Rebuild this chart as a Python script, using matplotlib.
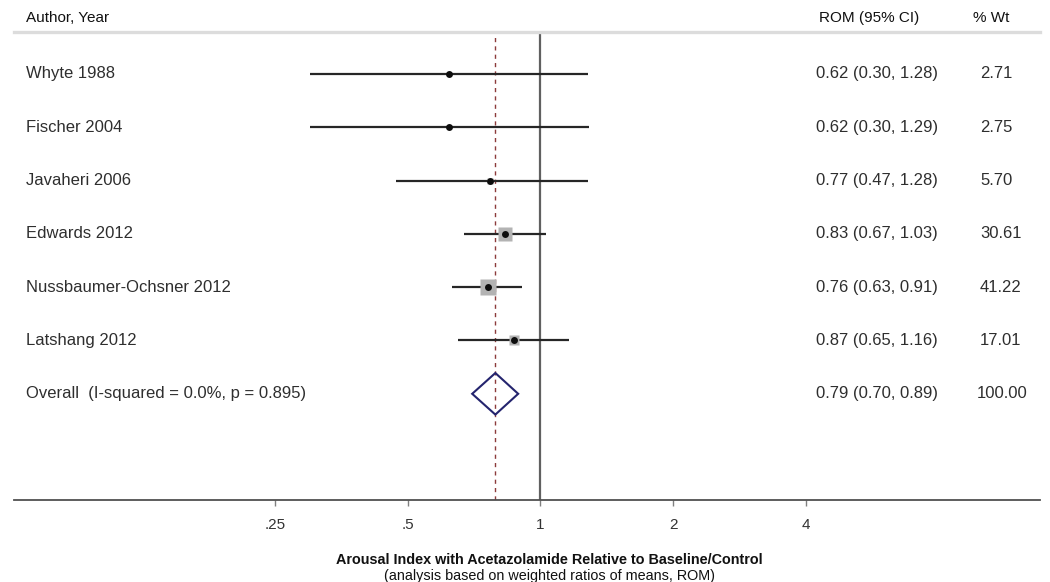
import numpy as np
import matplotlib
matplotlib.use("Agg")
import matplotlib.pyplot as plt
from matplotlib.patches import Polygon
from matplotlib.transforms import blended_transform_factory

# Study-level ratios of means (ROM) with 95% CI and weights
studies = ["Whyte 1988", "Fischer 2004", "Javaheri 2006", "Edwards 2012",
           "Nussbaumer-Ochsner 2012", "Latshang 2012"]
rom = [0.62, 0.62, 0.77, 0.83, 0.76, 0.87]
ci_low = [0.30, 0.30, 0.47, 0.67, 0.63, 0.65]
ci_high = [1.28, 1.29, 1.28, 1.03, 0.91, 1.16]
weights = [2.71, 2.75, 5.70, 30.61, 41.22, 17.01]

# Pooled estimate
overall_label = "Overall  (I-squared = 0.0%, p = 0.895)"
overall_rom = 0.79
overall_low = 0.70
overall_high = 0.89
overall_weight = 100.00

tick_values = [0.25, 0.5, 1, 2, 4]
tick_labels = [".25", ".5", "1", "2", "4"]

plt.rcParams["font.family"] = ["Liberation Sans", "DejaVu Sans"]

W, H = 1050, 582
fig = plt.figure(figsize=(W / 100, H / 100), dpi=100)

# Axes frame in pixel terms: x 14..1040, y 32..500 (from top)
ax_left, ax_right, ax_top, ax_bottom = 14, 1040, 32, 500
ax = fig.add_axes([ax_left / W, (H - ax_bottom) / H,
                   (ax_right - ax_left) / W, (ax_bottom - ax_top) / H])

# log2 axis: value 1 sits at x=540.5 px, 132.75 px per doubling
x_one, px_per_doubling = 540.5, 132.75
ax.set_xscale("log", base=2)
ax.set_xlim(2 ** ((ax_left - x_one) / px_per_doubling),
            2 ** ((ax_right - x_one) / px_per_doubling))

# rows: first row at y=74 px, spacing 53.3 px
row0, row_gap = 74.0, 53.3
ax.set_ylim((ax_bottom - row0) / row_gap, (ax_top - row0) / row_gap)

for s in ("left", "right"):
    ax.spines[s].set_visible(False)
ax.spines["top"].set_color("#dcdcdc")
ax.spines["top"].set_linewidth(2.4)
ax.spines["bottom"].set_color("#505050")
ax.spines["bottom"].set_linewidth(1.3)
ax.set_yticks([])
ax.set_xticks(tick_values)
ax.set_xticklabels(tick_labels)
ax.xaxis.set_minor_locator(matplotlib.ticker.NullLocator())
ax.tick_params(axis="x", direction="out", length=4, width=1, color="#808080",
               labelsize=11, labelcolor="#333333", pad=9)

# reference lines
ax.axvline(1, color="#606060", lw=1.6, zorder=1)
ax.axvline(overall_rom, color="#8c3b3b", lw=1.0, ls=(0, (3, 3)), zorder=1)

rows = np.arange(len(studies))
box_scale = 2.6  # px per sqrt(weight)
for y, est, lo, hi, w in zip(rows, rom, ci_low, ci_high, weights):
    ax.plot([lo, hi], [y, y], color="#262626", lw=1.6, solid_capstyle="butt", zorder=2)
    ax.plot(est, y, marker="s", ms=box_scale * np.sqrt(w) * 0.72,
            color="#b3b3b3", mec="none", zorder=3)
    ax.plot(est, y, marker="o", ms=5.0, color="#0d0d0d", mec="none", zorder=4)

# pooled diamond
y_ov = len(studies)
half_h = 0.39
diamond = Polygon([[overall_low, y_ov], [overall_rom, y_ov - half_h],
                   [overall_high, y_ov], [overall_rom, y_ov + half_h]],
                  closed=True, facecolor="none", edgecolor="#24246e", lw=1.5, zorder=4)
ax.add_patch(diamond)

# text columns
tr = blended_transform_factory(fig.transFigure, ax.transData)
body_kw = dict(fontsize=12, color="#2e2e2e", va="center", transform=tr)
for y, name, est, lo, hi, w in zip(rows, studies, rom, ci_low, ci_high, weights):
    ax.text(26 / W, y, name, ha="left", **body_kw)
    ax.text(816 / W, y, f"{est:.2f} ({lo:.2f}, {hi:.2f})", ha="left", **body_kw)
    ax.text(980 / W, y, f"{w:.2f}", ha="left", **body_kw)
ax.text(26 / W, y_ov, overall_label, ha="left", **body_kw)
ax.text(816 / W, y_ov, f"{overall_rom:.2f} ({overall_low:.2f}, {overall_high:.2f})",
        ha="left", **body_kw)
ax.text(977 / W, y_ov, f"{overall_weight:.2f}", ha="left", **body_kw)

# column headers
head_y = 1 - 18 / H
fig.text(26 / W, head_y, "Author, Year", fontsize=11, color="#111111", va="center")
fig.text(819 / W, head_y, "ROM (95% CI)", fontsize=11, color="#111111", va="center")
fig.text(973 / W, head_y, "% Wt", fontsize=11, color="#111111", va="center")

# axis titles
fig.text(549 / W, 1 - 560 / H,
         "Arousal Index with Acetazolamide Relative to Baseline/Control",
         fontsize=10.4, fontweight="bold", color="#111111", ha="center", va="center")
fig.text(549 / W, 1 - 576 / H,
         "(analysis based on weighted ratios of means, ROM)",
         fontsize=10.4, color="#111111", ha="center", va="center")

fig.savefig("out.png", dpi=100, facecolor="white")
